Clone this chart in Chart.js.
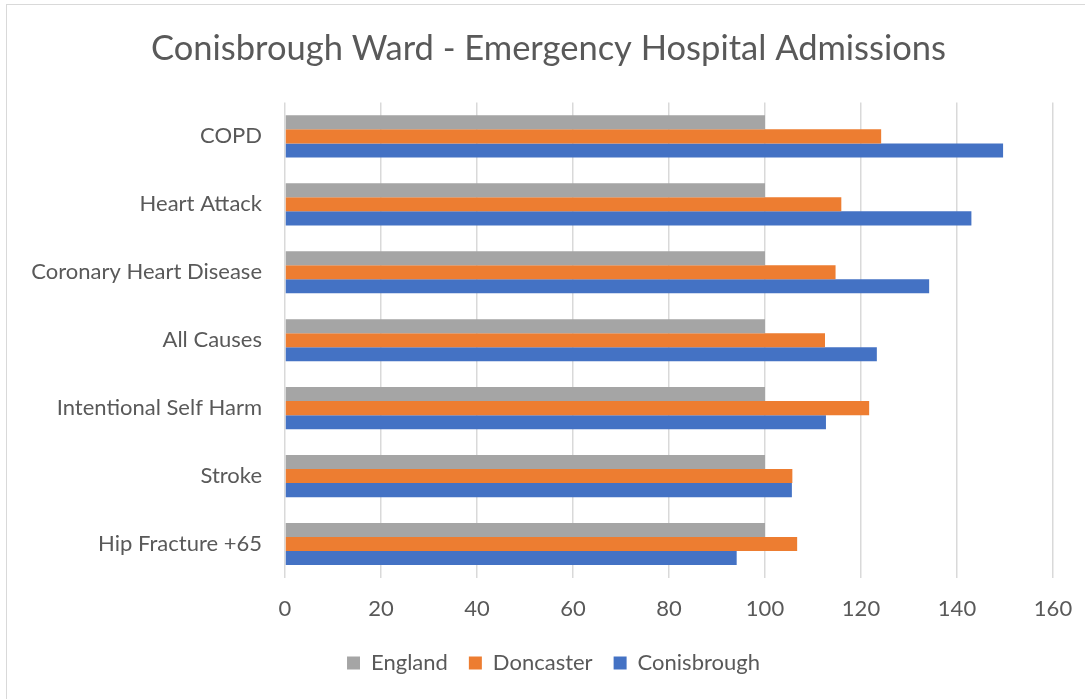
<!DOCTYPE html>
<html>
<head>
<meta charset="utf-8">
<script src="https://cdn.jsdelivr.net/npm/chart.js@4"></script>
<style>
  html, body { margin: 0; padding: 0; background: #fff; }
  #wrap { position: relative; width: 1085px; height: 699px; overflow: hidden; }
  #frame { position: absolute; left: 6px; top: 4px; width: 1200px; height: 800px; border: 1px solid #d9d9d9; box-sizing: border-box; }
  canvas { position: absolute; left: 0; top: 0; }
</style>
</head>
<body>
<div id="wrap">
  <div id="frame"></div>
  <canvas id="c" width="1085" height="699"></canvas>
</div>
<script>
const categories = ["COPD", "Heart Attack", "Coronary Heart Disease", "All Causes", "Intentional Self Harm", "Stroke", "Hip Fracture +65"];
const england = [100, 100, 100, 100, 100, 100, 100];
const doncaster = [124.2, 115.9, 114.7, 112.5, 121.7, 105.7, 106.7];
const conisbrough = [149.6, 143.0, 134.2, 123.3, 112.7, 105.6, 94.1];
const xTicks = [0, 20, 40, 60, 80, 100, 120, 140, 160];

const FONT = "Lato, 'Open Sans', sans-serif";
const TXT = "#595959";

// shift title / legend boxes so they centre on the frame like the reference
const recentre = {
  id: 'recentre',
  afterLayout(chart) {
    if (chart.titleBlock) { chart.titleBlock.left = 44; chart.titleBlock.right = 1053; }
    if (chart.legend) { chart.legend.left = 54; chart.legend.right = 1053; }
  }
};

new Chart(document.getElementById('c'), {
  type: 'bar',
  data: {
    labels: categories,
    datasets: [
      { label: 'England', data: england, backgroundColor: '#a5a5a5' },
      { label: 'Doncaster', data: doncaster, backgroundColor: '#ed7d31' },
      { label: 'Conisbrough', data: conisbrough, backgroundColor: '#4472c4' }
    ]
  },
  plugins: [recentre],
  options: {
    indexAxis: 'y',
    responsive: false,
    animation: false,
    devicePixelRatio: 1,
    layout: { padding: { left: 0, right: 32, top: 0, bottom: 15 } },
    datasets: { bar: { categoryPercentage: 0.62, barPercentage: 1.0 } },
    plugins: {
      title: {
        display: true,
        text: 'Conisbrough Ward - Emergency Hospital Admissions',
        color: TXT,
        font: { family: FONT, size: 34.5, weight: 'normal' },
        padding: { top: 28, bottom: 33 }
      },
      legend: {
        position: 'bottom',
        labels: {
          color: TXT,
          font: { family: FONT, size: 22 },
          boxWidth: 13, boxHeight: 13,
          padding: 21
        }
      },
      tooltip: { enabled: false }
    },
    scales: {
      x: {
        min: 0, max: 160,
        afterBuildTicks: (s) => { s.ticks = xTicks.map(v => ({ value: v })); },
        afterFit: (s) => { s.height = 53; s.paddingLeft = 0; s.paddingRight = 0; },
        grid: { color: '#d9d9d9', lineWidth: 1.5, drawTicks: false },
        border: { display: false },
        ticks: { color: TXT, font: { family: FONT, size: 22 }, padding: 18 }
      },
      y: {
        afterFit: (s) => { s.width = 285; },
        grid: { display: false },
        border: { display: false },
        ticks: { color: TXT, font: { family: FONT, size: 22 }, padding: 15, crossAlign: 'near' }
      }
    }
  }
});
</script>
</body>
</html>
